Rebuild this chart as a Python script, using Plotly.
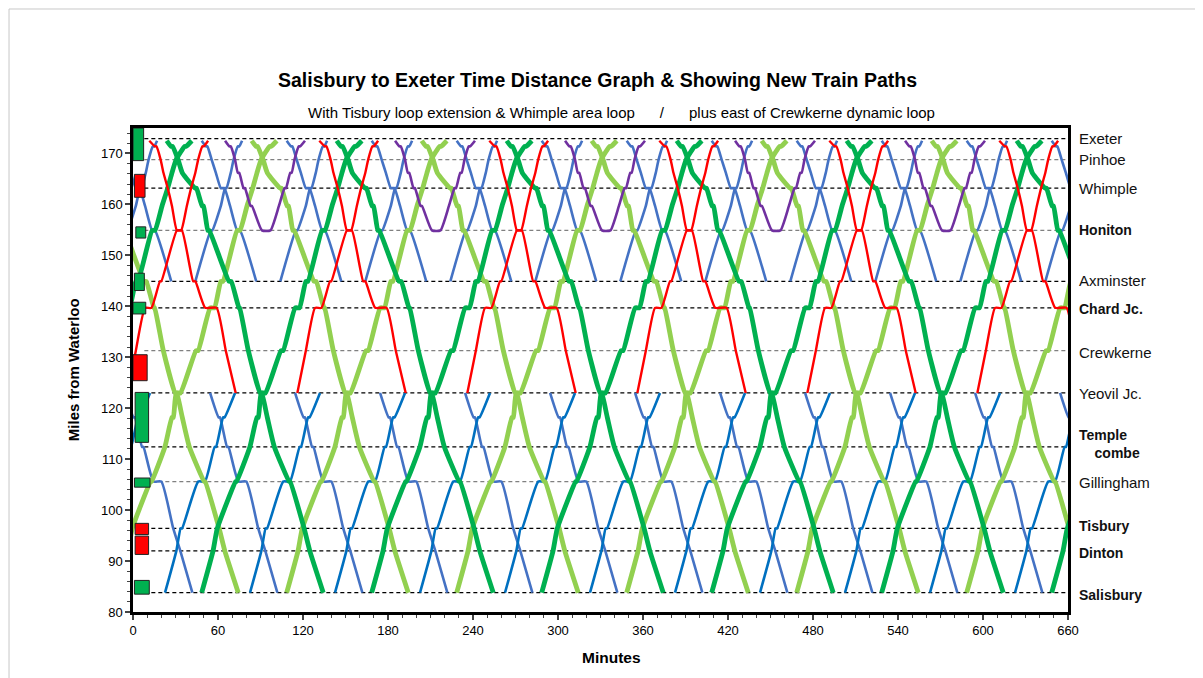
import plotly.graph_objects as go

# ---------------- stations (miles from Waterloo) ----------------
st_keys = ["SAL", "DIN", "TIS", "GIL", "TEM", "SHE", "YEO", "CRE", "CHA", "AXM",
           "HON", "FEN", "WHI", "CRA", "PIN", "EXC", "EXD"]
st_miles = [83.8, 92.0, 96.4, 105.6, 112.4, 118.2, 123.0, 131.3, 139.7, 144.9,
            154.9, 159.7, 163.2, 166.2, 168.8, 171.4, 172.5]
MI = dict(zip(st_keys, st_miles))

# dashed station reference lines
line_miles = [172.9, 168.8, 163.2, 154.9, 144.9, 139.7, 131.3, 123.0, 112.4, 105.6, 96.4, 92.0, 83.8]
line_grey = [False, True, False, True, False, False, True, False, False, True, False, False, False]

# station labels on the right
label_text = ["Exeter", "Pinhoe", "Whimple", "Honiton", "Axminster", "Chard Jc.", "Crewkerne",
              "Yeovil Jc.", "Temple<br>\u00a0\u00a0\u00a0\u00a0combe", "Gillingham", "Tisbury", "Dinton", "Salisbury"]
label_miles = [172.9, 168.8, 163.1, 154.9, 145.0, 139.5, 130.9, 122.8, 113.0, 105.5, 96.9, 91.6, 83.3]
label_bold = [False, False, False, True, False, True, False, False, True, False, True, True, True]

# loop / double-track indicator boxes (miles from, miles to, minutes, colour)
box_y0 = [168.6, 161.4, 153.4, 143.1, 138.5, 125.4, 113.3, 104.5, 95.2, 91.3, 83.5]
box_y1 = [175.0, 165.9, 155.6, 146.5, 140.8, 130.5, 123.1, 106.3, 97.4, 94.9, 86.2]
box_x0 = [0.0, 1.0, 2.0, 1.0, 0.0, 0.0, 1.5, 1.0, 1.5, 1.5, 1.0]
box_x1 = [7.5, 8.5, 9.0, 8.0, 9.0, 10.0, 11.0, 12.0, 11.0, 11.0, 11.5]
box_col = ["#00B050", "#FF0000", "#00B050", "#00B050", "#00B050", "#FF0000", "#00B050",
           "#00B050", "#FF0000", "#FF0000", "#00B050"]

# ---------------- running templates (station, arrive, depart) minutes from origin -------------
long_up = [("SAL", 0, 0), ("DIN", 8, 8), ("TIS", 11, 11), ("GIL", 24, 24.5), ("TEM", 34, 34),
           ("SHE", 39, 40), ("YEO", 42, 45), ("CRE", 56, 57.5), ("CHA", 66, 69), ("AXM", 73.5, 75),
           ("HON", 85, 87), ("FEN", 92, 92), ("WHI", 96, 96), ("CRA", 99, 99), ("PIN", 102, 102),
           ("EXC", 108, 109), ("EXD", 113, 113)]
long_dn = [("EXD", 0, 0), ("EXC", 3, 4), ("PIN", 8, 8), ("CRA", 11, 11), ("WHI", 20, 21),
           ("FEN", 25, 26), ("HON", 29, 30), ("AXM", 44, 45.5), ("CHA", 51, 51.5), ("CRE", 57.6, 57.6),
           ("YEO", 66, 67), ("SHE", 71, 71), ("TEM", 76, 76), ("GIL", 86.5, 87), ("TIS", 97, 97),
           ("DIN", 101, 101), ("SAL", 110.5, 110.5)]
red_dn = [("EXD", 0, 0), ("EXC", 4, 5), ("PIN", 8, 8), ("CRA", 10, 10), ("WHI", 13, 13),
          ("FEN", 16, 16), ("HON", 19.5, 23), ("AXM", 31, 32.5), ("CHA", 39.5, 47.5),
          ("CRE", 54, 54), ("YEO", 61, 61)]
red_up = [("YEO", 0, 0), ("CRE", 6, 6), ("CHA", 12.5, 17), ("AXM", 23, 24), ("HON", 35, 38),
          ("FEN", 42, 42), ("WHI", 45, 45), ("CRA", 48, 48), ("PIN", 50, 50), ("EXC", 53, 54),
          ("EXD", 57, 57)]
purple_rt = [("EXD", 0, 0), ("EXC", 3, 4), ("PIN", 7, 7), ("CRA", 9, 10), ("WHI", 13, 14),
             ("FEN", 18, 19), ("HON", 26, 32), ("FEN", 38, 38), ("WHI", 42, 43), ("CRA", 46, 47),
             ("PIN", 49, 49), ("EXC", 52, 53), ("EXD", 56.4, 56.4)]
blo_up = [("SAL", 0, 0), ("DIN", 8, 8), ("TIS", 11, 12), ("GIL", 23.4, 28.2), ("TEM", 35, 36),
          ("SHE", 41, 42), ("YEO", 49.4, 49.4)]
blo_dn = [("YEO", 0, 0), ("SHE", 6, 7), ("TEM", 12, 13), ("GIL", 20, 25.6), ("TIS", 34, 34),
          ("DIN", 39, 39), ("SAL", 47.5, 47.5)]
bhi_up = [("AXM", 0, 0), ("HON", 11, 12), ("FEN", 18, 18), ("WHI", 21, 22), ("CRA", 25, 25),
          ("PIN", 27, 27), ("EXC", 30, 31), ("EXD", 33, 33)]
bhi_dn = [("EXD", 0, 0), ("EXC", 3, 4), ("PIN", 7, 7), ("CRA", 10, 10), ("WHI", 13.5, 16),
          ("FEN", 20, 20), ("HON", 25, 27), ("AXM", 38.5, 38.5)]

# ---------------- origin times (minutes) ----------------
dg_up_starts = [-71.5, 48.5, 168.5, 288.5, 408.5, 528.5, 648.5]
lg_up_starts = [-11.5, 108.5, 228.5, 348.5, 468.5, 588.5]
dg_dn_starts = [23.8, 143.8, 263.8, 383.8, 503.8, 623.8]
lg_dn_starts = [-36.2, 83.8, 203.8, 323.8, 443.8, 563.8]
red_dn_starts = [11.5, 131.5, 251.5, 371.5, 491.5, 611.5]
red_up_starts = [-4, 116, 236, 356, 476, 596]
purple_starts = [65, 185, 305, 425, 545]
blo_up_starts = [-37.4, 22.6, 82.6, 142.6, 202.6, 262.6, 322.6, 382.6, 442.6, 502.6, 562.6, 622.6]
blo_dn_starts = [-5.6, 54.4, 114.4, 174.4, 234.4, 294.4, 354.4, 414.4, 474.4, 534.4, 594.4, 654.4]
bhi_up_starts = [-16, 44, 104, 164, 224, 284, 344, 404, 464, 524, 584, 644]
bhi_dn_starts = [-11.5, 48.5, 108.5, 168.5, 228.5, 288.5, 348.5, 408.5, 468.5, 528.5, 588.5, 648.5]


def build(template, starts):
    xs, ys = [], []
    for t0 in starts:
        for st, a, d in template:
            xs.append(t0 + a)
            ys.append(MI[st])
            if d > a:
                xs.append(t0 + d)
                ys.append(MI[st])
        xs.append(None)
        ys.append(None)
    return xs, ys


fig = go.Figure()

# dashed station lines
for m, g in zip(line_miles, line_grey):
    fig.add_trace(go.Scatter(x=[8, 660], y=[m, m], mode="lines", hoverinfo="skip",
                             line=dict(color="#808080" if g else "#000000", width=1.3, dash="4px,3px"),
                             showlegend=False))

services = [
    (blo_dn, blo_dn_starts, "#4472C4", 2.6),
    (blo_up, blo_up_starts, "#0070C0", 2.6),
    (bhi_dn, bhi_dn_starts, "#4472C4", 2.6),
    (bhi_up, bhi_up_starts, "#4472C4", 2.6),
    (long_up, lg_up_starts, "#92D050", 4.8),
    (long_dn, lg_dn_starts, "#92D050", 4.8),
    (long_up, dg_up_starts, "#00B050", 4.8),
    (long_dn, dg_dn_starts, "#00B050", 4.8),
    (purple_rt, purple_starts, "#7030A0", 2.6),
    (red_dn, red_dn_starts, "#FF0000", 2.4),
    (red_up, red_up_starts, "#FF0000", 2.4),
]
for tpl, starts, col, w in services:
    xs, ys = build(tpl, starts)
    fig.add_trace(go.Scatter(x=xs, y=ys, mode="lines", hoverinfo="skip", showlegend=False,
                             line=dict(color=col, width=w, shape="spline", smoothing=0.5)))

shapes = []
for y0, y1, x0, x1, c in zip(box_y0, box_y1, box_x0, box_x1, box_col):
    shapes.append(dict(type="rect", xref="x", yref="y", x0=x0, x1=x1, y0=y0, y1=y1,
                       fillcolor=c, line=dict(color="#222222", width=1), layer="above"))
# outer light frame
shapes.append(dict(type="rect", xref="paper", yref="paper", x0=-0.1326, x1=1.139, y0=-0.3, y1=1.2459,
                   line=dict(color="#c8c8c8", width=1), fillcolor="rgba(0,0,0,0)", layer="below"))

FONT = "Liberation Sans, Arial, sans-serif"
ann = [
    dict(text="<b>Salisbury to Exeter Time Distance Graph & Showing New Train Paths</b>",
         xref="paper", yref="paper", x=0.497, y=1.099, showarrow=False,
         font=dict(size=19.5, color="#000"), xanchor="center", yanchor="middle"),
    dict(text="With Tisbury loop extension & Whimple area loop" + "\u00a0" * 6 + "/" + "\u00a0" * 6 +
              "plus east of Crewkerne dynamic loop",
         xref="paper", yref="paper", x=0.522, y=1.033, showarrow=False,
         font=dict(size=15, color="#000"), xanchor="center", yanchor="middle"),
    dict(text="<b>Miles from Waterloo</b>", xref="paper", yref="paper", x=-0.064, y=0.5,
         textangle=-90, showarrow=False, font=dict(size=15, color="#000"),
         xanchor="center", yanchor="middle"),
    dict(text="<b>Minutes</b>", xref="paper", yref="paper", x=0.512, y=-0.093, showarrow=False,
         font=dict(size=15.5, color="#000"), xanchor="center", yanchor="middle"),
]
for t, m, b in zip(label_text, label_miles, label_bold):
    ann.append(dict(text=("<b>%s</b>" % t) if b else t, xref="paper", yref="y", x=1.0096, y=m,
                    showarrow=False, xanchor="left", yanchor="middle", align="left",
                    font=dict(size=14 if b else 15, color="#111")))

fig.update_layout(
    width=1203, height=678,
    margin=dict(l=125, r=143, t=120, b=74),
    paper_bgcolor="white", plot_bgcolor="white",
    font=dict(family=FONT, size=13, color="#000"),
    shapes=shapes, annotations=ann,
    xaxis=dict(range=[0, 660], tickvals=[0, 60, 120, 180, 240, 300, 360, 420, 480, 540, 600, 660],
               ticks="outside", ticklen=5, tickwidth=1.5, showgrid=False, zeroline=False,
               showline=True, linecolor="#000", linewidth=2.5, mirror=True,
               minor=dict(dtick=10, ticks="outside", ticklen=3, tickwidth=1),
               tickfont=dict(size=13)),
    yaxis=dict(range=[80, 175], tickvals=[80, 90, 100, 110, 120, 130, 140, 150, 160, 170],
               ticks="outside", ticklen=5, tickwidth=1.5, showgrid=False, zeroline=False,
               showline=True, linecolor="#000", linewidth=2.5, mirror=True,
               minor=dict(dtick=2, ticks="outside", ticklen=3, tickwidth=1),
               tickfont=dict(size=13)),
)

fig.write_html("out.html")
